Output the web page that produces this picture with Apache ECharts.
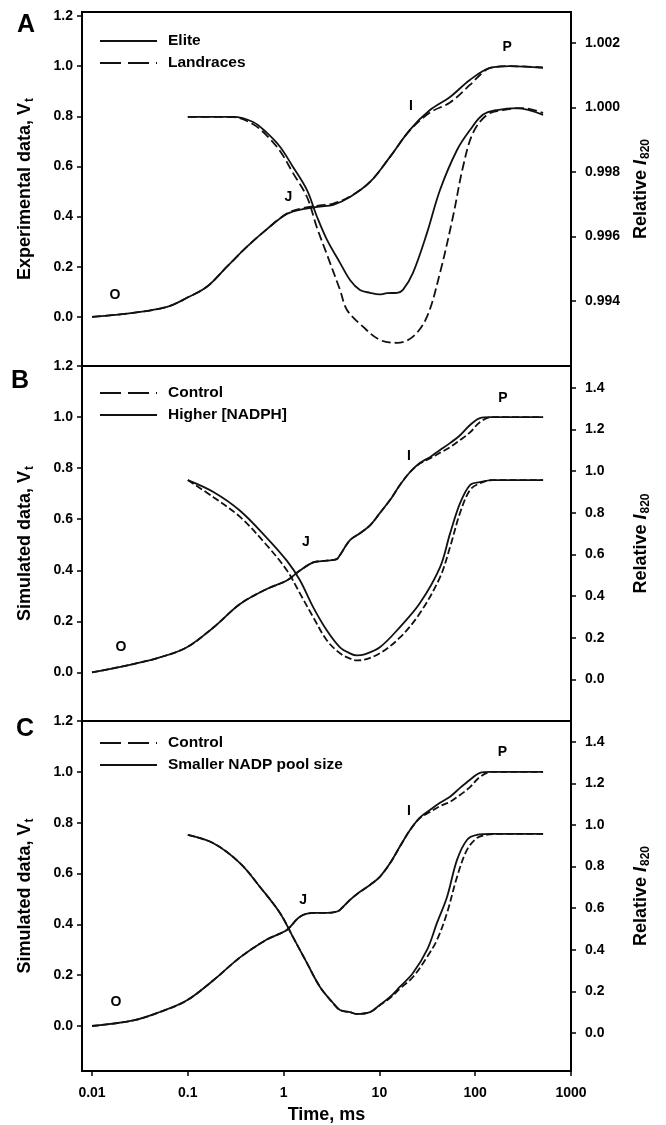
<!DOCTYPE html>
<html><head><meta charset="utf-8">
<script src="https://cdn.jsdelivr.net/npm/echarts@6/dist/echarts.min.js"></script>
<style>html,body{margin:0;padding:0;background:#fff}#c{width:666px;height:1125px}</style>
</head><body><div id="c"></div><script>
// ---------- data (time in ms, value) ----------
const xTickLabels = ['0.01','0.1','1','10','100','1000'];
const leftTicks = [0, 0.2, 0.4, 0.6, 0.8, 1.0, 1.2];
const rightTicksA = [0.994, 0.996, 0.998, 1.000, 1.002];
const rightTicksBC = [0, 0.2, 0.4, 0.6, 0.8, 1.0, 1.2, 1.4];

// Panel A: experimental
const aEliteVt = [[0.01,0],[0.0268,0.016],[0.0607,0.04],[0.098,0.076],[0.158,0.12],[0.256,0.2],[0.415,0.28],[0.67,0.35],[1.08,0.41],[1.59,0.43],[2.4,0.44],[3.3,0.447],[4.93,0.478],[7.98,0.538],[12.9,0.638],[20.8,0.746],[33.7,0.825],[54.6,0.877],[88,0.945],[143,0.993],[230,1.0],[510,0.993]];
const aLandVt = [[0.01,0],[0.0268,0.016],[0.0607,0.04],[0.098,0.076],[0.158,0.12],[0.256,0.2],[0.415,0.28],[0.67,0.35],[1.08,0.412],[1.59,0.434],[2.4,0.445],[3.3,0.452],[4.93,0.48],[7.98,0.538],[12.9,0.638],[20.8,0.744],[33.7,0.815],[54.6,0.855],[88,0.925],[120,0.975],[143,0.993],[230,1.0],[510,0.995]];
const aEliteI = [[0.1,0.99971],[0.296,0.99971],[0.48,0.99955],[0.67,0.99921],[0.917,0.99878],[1.25,0.99816],[1.75,0.99744],[2.23,0.99661],[2.84,0.99589],[3.88,0.99518],[4.93,0.99465],[6.27,0.99434],[7.98,0.99425],[10,0.9942],[12,0.99424],[15.3,0.99425],[17.6,0.99434],[22.4,0.99487],[31.4,0.99611],[42.9,0.99744],[64.6,0.99868],[88.3,0.9993],[120,0.99977],[169,0.99992],[273,0.99998],[511,0.99977]];
const aLandI = [[0.1,0.99971],[0.3,0.9997],[0.48,0.99948],[0.67,0.99912],[0.917,0.99865],[1.25,0.99797],[1.75,0.99723],[2.23,0.99627],[2.84,0.99543],[3.88,0.99434],[4.59,0.99372],[6.74,0.9932],[10.1,0.99279],[15.3,0.9927],[22.4,0.99289],[31.4,0.99351],[42.9,0.99487],[58.6,0.99661],[74.6,0.99816],[94.9,0.99921],[133,0.99977],[195,0.99992],[315,0.99998],[511,0.99983]];

// Panel B: simulated, higher NADPH
const bHighVt = [[0.01,0],[0.027,0.033],[0.051,0.059],[0.097,0.098],[0.185,0.176],[0.351,0.268],[0.667,0.327],[1.08,0.36],[1.48,0.399],[2.04,0.431],[2.82,0.438],[3.58,0.444],[3.88,0.46],[4.93,0.518],[6.27,0.545],[7.98,0.576],[10.1,0.624],[12.9,0.675],[16.3,0.733],[20.8,0.784],[26.4,0.82],[33.7,0.843],[42.9,0.871],[54.6,0.898],[69.5,0.929],[88.3,0.969],[112,0.996],[143,1.0],[511,1.0]];
const bCtrlVt = [[0.01,0],[0.027,0.033],[0.051,0.059],[0.097,0.098],[0.185,0.176],[0.351,0.268],[0.667,0.327],[1.08,0.36],[1.48,0.399],[2.04,0.431],[2.82,0.438],[3.58,0.444],[3.88,0.46],[4.93,0.518],[6.27,0.545],[7.98,0.576],[10.1,0.624],[12.9,0.675],[16.3,0.733],[20.8,0.784],[26.4,0.818],[33.7,0.838],[42.9,0.86],[54.6,0.882],[69.5,0.91],[88.3,0.94],[112,0.98],[150,1.0],[511,1.0]];
const bHighI = [[0.1,0.957],[0.185,0.9],[0.351,0.81],[0.667,0.68],[1.08,0.57],[1.48,0.476],[2.04,0.346],[2.82,0.236],[3.88,0.154],[4.93,0.125],[5.8,0.115],[7.0,0.12],[10.1,0.154],[16.3,0.25],[26.4,0.365],[42.9,0.538],[54.6,0.70],[69.5,0.846],[88.3,0.933],[112,0.947],[150,0.957],[511,0.957]];
const bCtrlI = [[0.1,0.957],[0.185,0.875],[0.351,0.78],[0.667,0.644],[1.08,0.524],[1.48,0.413],[2.04,0.298],[2.82,0.188],[3.88,0.125],[4.93,0.1],[5.8,0.091],[7.0,0.095],[10.1,0.125],[16.3,0.2],[26.4,0.317],[42.9,0.49],[54.6,0.635],[69.5,0.8],[88.3,0.91],[112,0.942],[150,0.957],[511,0.957]];

// Panel C: simulated, smaller NADP pool
const cSmallVt = [[0.01,0],[0.027,0.022],[0.051,0.055],[0.097,0.1],[0.185,0.18],[0.351,0.27],[0.667,0.34],[1.08,0.378],[1.48,0.43],[2.04,0.445],[2.82,0.445],[3.58,0.45],[3.88,0.457],[4.93,0.496],[6.27,0.528],[7.98,0.555],[10.1,0.587],[12.9,0.64],[16.3,0.705],[20.8,0.77],[26.4,0.82],[33.7,0.85],[42.9,0.878],[54.6,0.902],[69.5,0.937],[88.3,0.969],[112,0.996],[143,1.0],[511,1.0]];
const cCtrlVt = [[0.01,0],[0.027,0.022],[0.051,0.055],[0.097,0.1],[0.185,0.18],[0.351,0.27],[0.667,0.34],[1.08,0.378],[1.48,0.43],[2.04,0.445],[2.82,0.445],[3.58,0.45],[3.88,0.457],[4.93,0.496],[6.27,0.528],[7.98,0.555],[10.1,0.587],[12.9,0.64],[16.3,0.705],[20.8,0.77],[26.4,0.818],[33.7,0.842],[42.9,0.865],[54.6,0.882],[69.5,0.909],[88.3,0.94],[112,0.98],[150,1.0],[511,1.0]];
const cSmallI = [[0.1,0.952],[0.183,0.913],[0.35,0.817],[0.567,0.702],[0.916,0.577],[1.25,0.462],[1.75,0.337],[2.4,0.221],[3.28,0.144],[3.88,0.11],[4.93,0.1],[5.8,0.091],[7.98,0.1],[10.1,0.135],[12.9,0.173],[16.3,0.221],[22.4,0.288],[31.4,0.399],[39.9,0.529],[50.8,0.654],[64.6,0.832],[82,0.928],[104,0.952],[150,0.957],[511,0.957]];
const cCtrlI = [[0.1,0.952],[0.183,0.913],[0.35,0.817],[0.567,0.702],[0.916,0.577],[1.25,0.462],[1.75,0.337],[2.4,0.221],[3.28,0.144],[3.88,0.11],[4.93,0.1],[5.8,0.091],[7.98,0.1],[10.1,0.133],[12.9,0.168],[16.3,0.212],[22.4,0.269],[31.4,0.365],[39.9,0.447],[50.8,0.577],[64.6,0.75],[82,0.88],[104,0.937],[130,0.952],[180,0.957],[511,0.957]];

// OJIP annotations [label, time, Vt]
const annotA = [['O',0.0174,0.088],['J',1.12,0.478],['I',21.4,0.841],['P',215,1.077]];
const annotB = [['O',0.020,0.098],['J',1.71,0.51],['I',20.4,0.847],['P',195,1.075]];
const annotC = [['O',0.0178,0.094],['J',1.6,0.496],['I',20.4,0.846],['P',192,1.077]];

const panelLetters = ['A','B','C'];
const leftNames = ['Experimental data, V','Simulated data, V','Simulated data, V'];

// ---------- chart ----------
const FONT = '"Liberation Sans", Arial, sans-serif';
const BLACK = '#000';
const chart = echarts.init(document.getElementById('c'), null, {renderer:'canvas'});

const grids = [
  {left:82, width:489, top:12, height:354},
  {left:82, width:489, top:366, height:355},
  {left:82, width:489, top:721, height:350}
].map(g => Object.assign(g, {show:true, borderColor:BLACK, borderWidth:2, backgroundColor:'transparent', containLabel:false}));

function xAx(i){
  const main = i === 2;
  return {
    type:'log', logBase:10, gridIndex:i, min:0.00786, max:1000,
    show: main, position:'bottom',
    axisLine:{show:true, onZero:false, lineStyle:{color:BLACK, width:2}},
    axisTick:{show:true, length:5, inside:false, lineStyle:{color:BLACK, width:1.5}},
    minorTick:{show:false}, splitLine:{show:false}, minorSplitLine:{show:false},
    axisLabel:{show:true, showMinLabel:false, margin:15, color:BLACK, fontWeight:'bold', fontSize:14, fontFamily:FONT,
      formatter: v => { const s = String(+(+v).toPrecision(6)); return xTickLabels.indexOf(s) >= 0 ? s : ''; }},
    name: main ? 'Time, ms' : '', nameLocation:'middle', nameGap:35,
    nameTextStyle:{color:BLACK, fontWeight:'bold', fontSize:18, fontFamily:FONT}
  };
}
const sub = (pad) => ({fontSize:12, fontWeight:'bold', fontFamily:FONT, color:BLACK, padding:[pad,0,0,1]});
function yLeft(i, min, max){
  return {
    type:'value', gridIndex:i, position:'left', min:min, max:max,
    axisLine:{show:true, onZero:false, lineStyle:{color:BLACK, width:2}},
    axisTick:{show:true, length:5, customValues:leftTicks, lineStyle:{color:BLACK, width:1.5}},
    splitLine:{show:false},
    axisLabel:{customValues:leftTicks, margin:9, color:BLACK, fontWeight:'bold', fontSize:14, fontFamily:FONT, formatter:v => (+v).toFixed(1)},
    name:'{a|' + leftNames[i] + '}{s|t}', nameLocation:'middle', nameRotate:90, nameGap:46,
    nameTextStyle:{rich:{a:{fontSize:18, fontWeight:'bold', fontFamily:FONT, color:BLACK}, s:sub(10)}}
  };
}
function yRight(i, min, max, ticks, dec){
  return {
    type:'value', gridIndex:i, position:'right', min:min, max:max,
    axisLine:{show:true, onZero:false, lineStyle:{color:BLACK, width:2}},
    axisTick:{show:true, length:5, customValues:ticks, lineStyle:{color:BLACK, width:1.5}},
    splitLine:{show:false},
    axisLabel:{customValues:ticks, margin:14, color:BLACK, fontWeight:'bold', fontSize:14, fontFamily:FONT, formatter:v => (+v).toFixed(dec)},
    name:'{a|Relative }{i|I}{s|820}', nameLocation:'middle', nameRotate:90, nameGap:59,
    nameTextStyle:{rich:{
      a:{fontSize:18, fontWeight:'bold', fontFamily:FONT, color:BLACK},
      i:{fontSize:18, fontWeight:'bold', fontStyle:'italic', fontFamily:FONT, color:BLACK},
      s:sub(10)}}
  };
}

const DASH_A = [9,4], DASH_BC = [7,3];
function line(name, data, xi, yi, dash){
  return {
    type:'line', name:name, xAxisIndex:xi, yAxisIndex:yi, data:data,
    symbol:'none', showSymbol:false, smooth:0.35, silent:true, animation:false,
    lineStyle:{color:'#111', width:1.8, type: dash || 'solid'},
    itemStyle:{color:'#111'}
  };
}
function annot(list, xi, yi){
  return {
    type:'scatter', xAxisIndex:xi, yAxisIndex:yi, silent:true, animation:false,
    symbolSize:1, itemStyle:{color:'rgba(0,0,0,0)'},
    data: list.map(a => ({name:a[0], value:[a[1], a[2]]})),
    label:{show:true, position:'inside', formatter:'{b}', color:BLACK, opacity:1, textBorderWidth:0,
      fontWeight:'bold', fontSize:14, fontFamily:FONT}
  };
}
function legend(items, top){
  return {
    orient:'vertical', left:99, top:top, padding:0, itemWidth:57, itemHeight:14, itemGap:6,
    selectedMode:false,
    itemStyle:{opacity:0},
    data: items,
    textStyle:{color:BLACK, fontWeight:'bold', fontSize:15.5, fontFamily:FONT, padding:[0,0,0,6]}
  };
}
const legDash = {type:[21,7]};

const option = {
  animation:false,
  backgroundColor:'#fff',
  grid: grids,
  xAxis: [xAx(0), xAx(1), xAx(2)],
  yAxis: [
    yLeft(0, -0.196, 1.216), yRight(0, 0.99198, 1.00296, rightTicksA, 3),
    yLeft(1, -0.19, 1.2),    yRight(1, -0.2, 1.505, rightTicksBC, 1),
    yLeft(2, -0.177, 1.2),   yRight(2, -0.183, 1.5, rightTicksBC, 1)
  ],
  legend: [
    legend(['Elite', {name:'Landraces', lineStyle:legDash}], 33),
    legend([{name:'Control', lineStyle:legDash}, 'Higher [NADPH]'], 385),
    legend([{name:'Control', lineStyle:legDash}, 'Smaller NADP pool size'], 735)
  ],
  graphic: panelLetters.map((t, k) => ({
    type:'text', x:[26,20,25][k], y:[25,381,729][k], silent:true,
    style:{text:t, fill:BLACK, font:'bold 25px ' + FONT, textAlign:'center', textVerticalAlign:'middle'}
  })),
  series: [
    line('Elite', aEliteVt, 0, 0), line('Landraces', aLandVt, 0, 0, DASH_A),
    line('Elite', aEliteI, 0, 1),  line('Landraces', aLandI, 0, 1, DASH_A),
    line('Control', bCtrlVt, 1, 2, DASH_BC), line('Higher [NADPH]', bHighVt, 1, 2),
    line('Control', bCtrlI, 1, 3, DASH_BC),  line('Higher [NADPH]', bHighI, 1, 3),
    line('Control', cCtrlVt, 2, 4, DASH_BC), line('Smaller NADP pool size', cSmallVt, 2, 4),
    line('Control', cCtrlI, 2, 5, DASH_BC),  line('Smaller NADP pool size', cSmallI, 2, 5),
    annot(annotA, 0, 0), annot(annotB, 1, 2), annot(annotC, 2, 4)
  ]
};
chart.setOption(option);
</script></body></html>
